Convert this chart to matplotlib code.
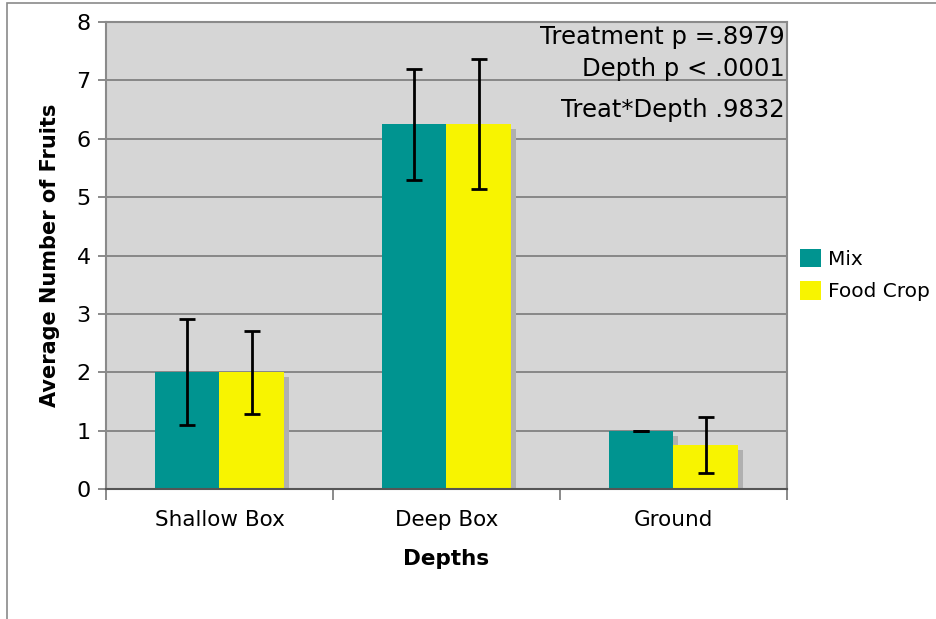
import numpy as np
import matplotlib
matplotlib.use("Agg")
import matplotlib.pyplot as plt
from matplotlib.patches import Rectangle, Patch

# data
depths = ["Shallow Box", "Deep Box", "Ground"]
mix_means = [2.0, 6.25, 1.0]
mix_err = [0.91, 0.95, 0.0]
food_means = [2.0, 6.25, 0.75]
food_err = [0.71, 1.11, 0.48]
stats_lines = ["Treatment p =.8979", "Depth p < .0001", "Treat*Depth .9832"]

TEAL = "#009490"
YELLOW = "#F8F400"
BG = "#D6D6D6"

plt.rcParams['font.family'] = ['Verdana', 'DejaVu Sans']

fig = plt.figure(figsize=(9.37, 6.19), dpi=100)
# outer frame like the original chart object
fig.patches.append(Rectangle((7 / 937, -0.1), 1.2, 1 - 3 / 619 + 0.1, transform=fig.transFigure,
                             fill=False, edgecolor="#8a8a8a", lw=1.2))

ax = fig.add_axes([106 / 937, 1 - 489 / 619, 681 / 937, 467 / 619])
ax.set_facecolor(BG)

x = np.arange(len(depths))
w = 0.283
# drop shadows
sx = 5 / 227
sy = 5 / 58.4
ax.bar(x + w / 2 + sx, np.array(food_means) - sy, width=w, color="#b0b0b0", zorder=1)
ax.bar(x - w / 2 + sx, np.array(mix_means) - sy, width=w, color="#b0b0b0", zorder=1)

ax.bar(x - w / 2, mix_means, width=w, color=TEAL, zorder=2, label="Mix")
ax.bar(x + w / 2, food_means, width=w, color=YELLOW, zorder=2, label="Food Crop")
ax.errorbar(x - w / 2, mix_means, yerr=mix_err, fmt="none", ecolor="black",
            elinewidth=2, capsize=6, capthick=2, zorder=3)
ax.errorbar(x + w / 2, food_means, yerr=food_err, fmt="none", ecolor="black",
            elinewidth=2, capsize=6, capthick=2, zorder=3)

ax.set_xlim(-0.5, 2.5)
ax.set_ylim(0, 8)
ax.set_yticks(range(0, 9))
ax.yaxis.grid(True, color="#7a7a7a", lw=1.2, zorder=0)
ax.set_axisbelow(True)
ax.tick_params(axis="y", labelsize=16, length=6, color="#777777", width=1.2, pad=5)
ax.set_xticks(x)
ax.set_xticklabels(depths, fontsize=15.5)
ax.tick_params(axis="x", length=0, pad=15)
ax.set_xticks([-0.5, 0.5, 1.5, 2.5], minor=True)
ax.tick_params(axis="x", which="minor", length=8, color="#777777", width=1.2)
for s in ax.spines.values():
    s.set_color("#8a8a8a")
    s.set_linewidth(1.5)
ax.spines["bottom"].set_color("#555555")

ax.set_ylabel("Average Number of Fruits", fontsize=15, fontweight="bold", labelpad=12)
ax.set_xlabel("Depths", fontsize=15.5, fontweight="bold", labelpad=14)

for ypos, line in zip([0.968, 0.899, 0.8116], stats_lines):
    ax.text(0.997, ypos, line, transform=ax.transAxes, ha="right", va="center", fontsize=17.5)

handles = [Patch(facecolor=TEAL, label="Mix"), Patch(facecolor=YELLOW, label="Food Crop")]
fig.legend(handles=handles, loc="center left", bbox_to_anchor=(800 / 937, 1 - 275 / 619),
           frameon=False, fontsize=14.5, handlelength=1.05, handleheight=1.05,
           handletextpad=0.35, labelspacing=0.6, borderpad=0, borderaxespad=0)

fig.savefig("out.png", dpi=100)
